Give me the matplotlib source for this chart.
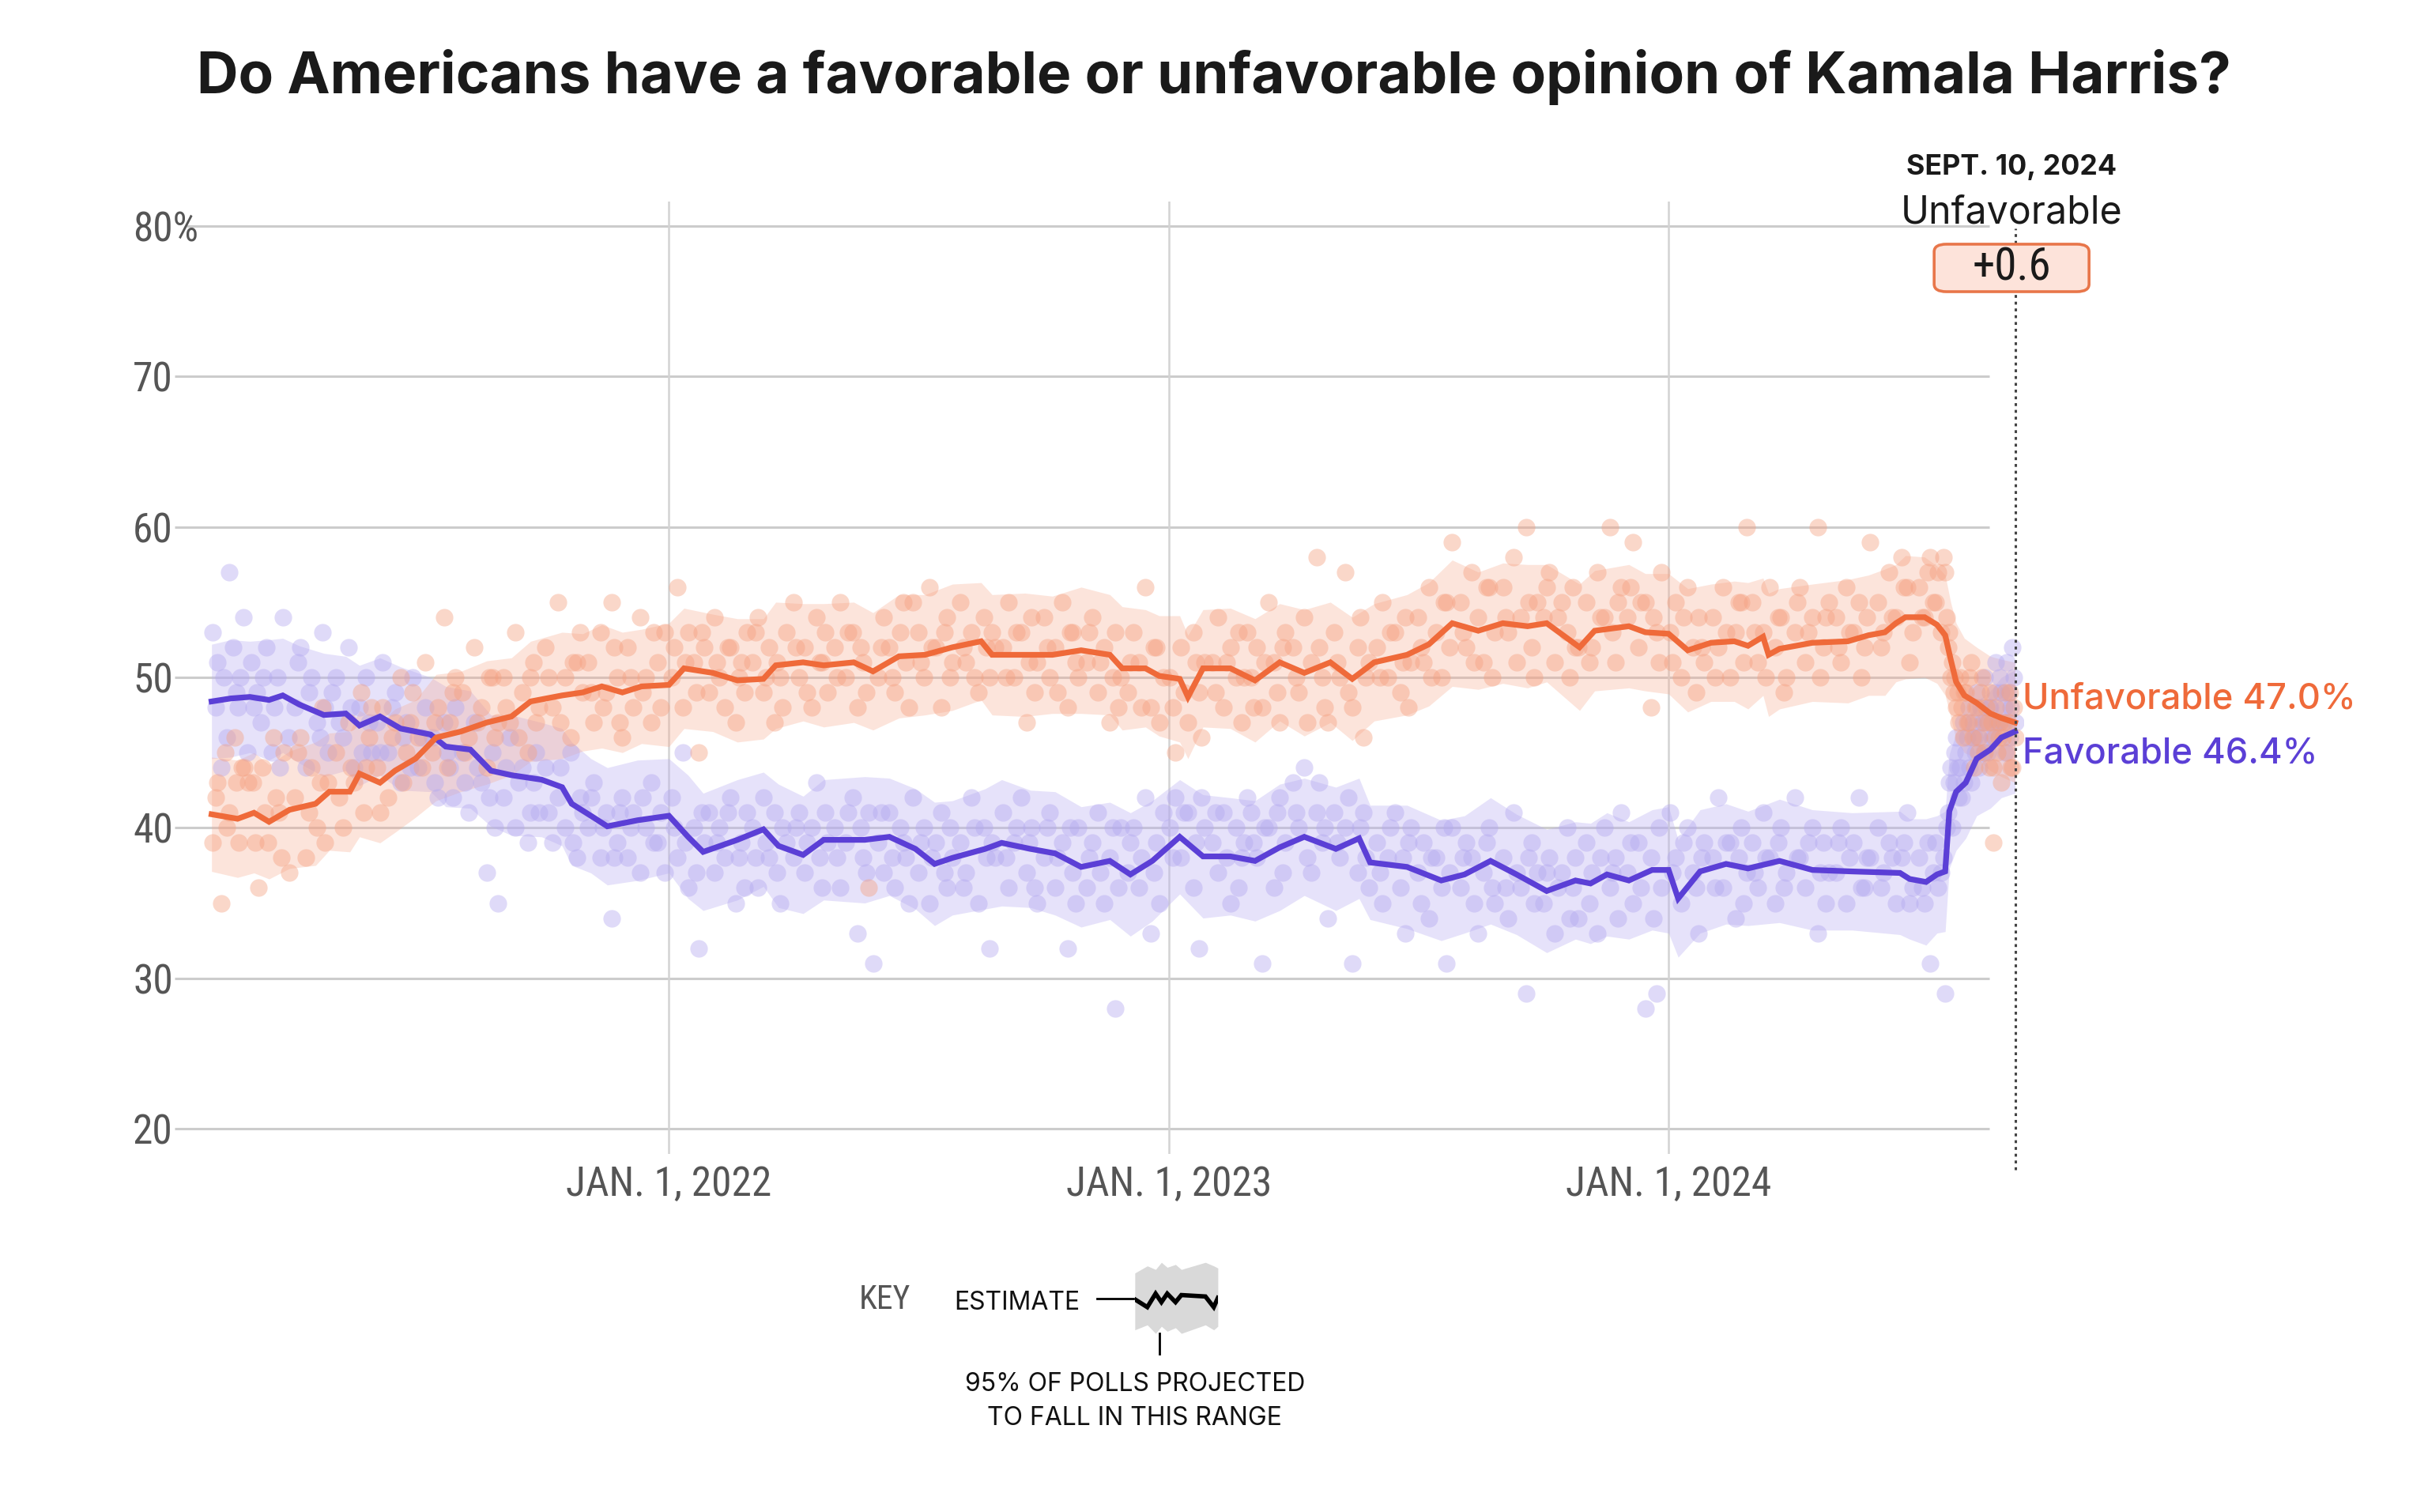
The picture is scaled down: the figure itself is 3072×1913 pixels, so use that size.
"""Favorable / unfavorable polling average for Kamala Harris, Feb 2021 - Sept 2024."""

import matplotlib
matplotlib.use("Agg")
import matplotlib.pyplot as plt
import pandas as pd
from matplotlib.lines import Line2D
from matplotlib.patches import FancyBboxPatch

plt.rcParams["font.family"] = ["Inter", "DejaVu Sans"]
NARROW = ["Roboto Condensed", "DejaVu Sans"]

# ---------------------------------------------------------------------------
# Data
# ---------------------------------------------------------------------------

fav_dates = [
    "2021-02-01", "2021-02-15", "2021-03-01", "2021-03-15", "2021-03-25", "2021-04-06", "2021-04-24", "2021-05-10",
    "2021-05-20", "2021-06-04", "2021-06-19", "2021-07-11", "2021-07-22", "2021-08-09", "2021-08-24", "2021-09-08",
    "2021-09-30", "2021-10-15", "2021-10-22", "2021-11-05", "2021-11-17", "2021-12-09", "2022-01-01", "2022-01-15",
    "2022-01-26", "2022-02-20", "2022-03-11", "2022-03-22", "2022-04-09", "2022-04-24", "2022-05-24", "2022-06-11",
    "2022-06-30", "2022-07-14", "2022-07-27", "2022-08-20", "2022-09-01", "2022-09-22", "2022-10-10", "2022-10-29",
    "2022-11-19", "2022-12-04", "2022-12-20", "2023-01-09", "2023-01-26", "2023-02-15", "2023-03-05", "2023-03-23",
    "2023-04-10", "2023-05-03", "2023-05-20", "2023-05-28", "2023-06-24", "2023-07-19", "2023-08-05", "2023-08-24",
    "2023-09-12", "2023-10-04", "2023-10-25", "2023-11-05", "2023-11-17", "2023-12-03", "2023-12-20", "2024-01-01",
    "2024-01-08", "2024-01-24", "2024-02-12", "2024-02-28", "2024-03-22", "2024-04-15", "2024-05-14", "2024-06-18",
    "2024-06-25", "2024-07-07", "2024-07-15", "2024-07-21", "2024-07-24", "2024-07-29", "2024-08-05", "2024-08-13",
    "2024-08-23", "2024-08-31", "2024-09-10",
]
fav_trend = [
    48.4, 48.6, 48.7, 48.5, 48.8, 48.2, 47.5, 47.6,
    46.8, 47.4, 46.6, 46.2, 45.4, 45.2, 43.8, 43.5,
    43.2, 42.7, 41.6, 40.8, 40.1, 40.5, 40.8, 39.4,
    38.4, 39.2, 39.9, 38.8, 38.2, 39.2, 39.2, 39.4,
    38.6, 37.6, 38.0, 38.6, 39.0, 38.6, 38.3, 37.4,
    37.8, 36.9, 37.8, 39.4, 38.1, 38.1, 37.8, 38.7,
    39.4, 38.6, 39.3, 37.7, 37.4, 36.5, 36.9, 37.8,
    36.9, 35.8, 36.5, 36.3, 36.9, 36.5, 37.2, 37.2,
    35.3, 37.1, 37.6, 37.3, 37.8, 37.2, 37.1, 37.0,
    36.6, 36.4, 36.9, 37.1, 41.1, 42.4, 43.0, 44.6,
    45.2, 46.0, 46.4,
]
fav_spread = [
    3.8, 3.9, 3.7, 4.0, 3.8, 3.9, 4.1, 3.8,
    4.0, 3.9, 4.1, 3.8, 4.0, 3.9, 3.7, 4.0,
    3.8, 3.9, 4.1, 3.8, 3.9, 4.0, 3.8, 4.1,
    3.9, 4.0, 3.8, 4.1, 3.9, 4.0, 4.2, 3.9,
    4.0, 4.1, 3.8, 4.0, 4.2, 3.9, 4.1, 4.0,
    3.9, 4.1, 4.0, 3.8, 4.1, 3.9, 4.0, 4.2,
    3.9, 4.1, 4.0, 3.8, 4.1, 4.0, 3.9, 4.2,
    4.0, 4.1, 3.9, 4.0, 4.1, 3.9, 4.0, 4.2,
    3.9, 4.1, 4.0, 3.8, 4.1, 4.0, 3.9, 4.1,
    4.0, 4.2, 3.9, 4.0, 3.8, 3.9, 3.7, 3.8,
    3.9, 4.0, 4.1,
]

unfav_dates = [
    "2021-02-01", "2021-02-20", "2021-03-04", "2021-03-15", "2021-03-30", "2021-04-18", "2021-04-28", "2021-05-13",
    "2021-05-20", "2021-06-04", "2021-06-15", "2021-06-30", "2021-07-15", "2021-08-02", "2021-08-21", "2021-09-08",
    "2021-09-22", "2021-10-15", "2021-10-30", "2021-11-13", "2021-11-28", "2021-12-12", "2022-01-01", "2022-01-12",
    "2022-02-02", "2022-02-20", "2022-03-11", "2022-03-20", "2022-04-09", "2022-04-24", "2022-05-16", "2022-05-30",
    "2022-06-18", "2022-07-07", "2022-07-27", "2022-08-17", "2022-08-25", "2022-09-18", "2022-10-08", "2022-10-29",
    "2022-11-19", "2022-11-28", "2022-12-15", "2022-12-25", "2023-01-09", "2023-01-15", "2023-01-26", "2023-02-15",
    "2023-03-05", "2023-03-23", "2023-04-10", "2023-04-29", "2023-05-15", "2023-05-31", "2023-06-24", "2023-07-10",
    "2023-07-27", "2023-08-15", "2023-09-02", "2023-09-20", "2023-10-04", "2023-10-28", "2023-11-08", "2023-12-03",
    "2023-12-15", "2024-01-01", "2024-01-15", "2024-02-01", "2024-02-18", "2024-02-28", "2024-03-10", "2024-03-14",
    "2024-03-22", "2024-04-15", "2024-05-11", "2024-05-26", "2024-06-07", "2024-06-15", "2024-06-22", "2024-07-06",
    "2024-07-15", "2024-07-21", "2024-07-25", "2024-07-29", "2024-08-04", "2024-08-13", "2024-08-23", "2024-08-31",
    "2024-09-10",
]
unfav_trend = [
    40.9, 40.6, 41.0, 40.4, 41.2, 41.6, 42.4, 42.4,
    43.6, 43.0, 43.8, 44.6, 46.0, 46.4, 47.0, 47.4,
    48.4, 48.8, 49.0, 49.4, 49.0, 49.4, 49.5, 50.6,
    50.3, 49.8, 49.9, 50.8, 51.0, 50.8, 51.0, 50.4,
    51.4, 51.5, 52.0, 52.4, 51.5, 51.5, 51.5, 51.8,
    51.5, 50.6, 50.6, 50.1, 49.9, 48.7, 50.6, 50.6,
    49.8, 51.0, 50.3, 51.0, 49.9, 51.0, 51.5, 52.2,
    53.6, 53.1, 53.6, 53.4, 53.6, 52.0, 53.1, 53.4,
    53.0, 52.9, 51.8, 52.3, 52.4, 52.1, 52.7, 51.5,
    51.9, 52.3, 52.4, 52.8, 53.0, 53.6, 54.0, 54.0,
    53.5, 52.8, 51.2, 49.7, 48.8, 48.3, 47.6, 47.3,
    47.0,
]
unfav_spread = [
    3.8, 3.9, 4.0, 3.8, 3.9, 4.1, 3.9, 4.0,
    4.2, 4.0, 4.1, 3.9, 4.2, 4.0, 4.1, 3.9,
    4.0, 4.2, 3.9, 4.1, 4.0, 3.8, 4.1, 4.0,
    3.9, 4.1, 4.0, 4.2, 3.9, 4.1, 4.0, 3.9,
    4.1, 4.0, 4.2, 3.9, 4.0, 4.1, 3.9, 4.2,
    4.0, 4.1, 3.9, 4.0, 4.2, 4.1, 3.9, 4.0,
    4.1, 3.9, 4.2, 4.0, 4.1, 3.9, 4.0, 4.1,
    4.2, 3.9, 4.0, 4.1, 3.9, 4.2, 4.0, 4.1,
    3.9, 4.0, 4.1, 3.9, 4.0, 4.2, 3.9, 4.1,
    4.0, 3.9, 4.1, 4.0, 4.2, 3.9, 4.1, 4.0,
    3.9, 4.0, 3.8, 3.9, 3.8, 3.7, 3.8, 3.9,
    4.0,
]

# Individual polls: month -> [(day of month, value)]
fav_polls = {
    "2021-02": [(2, 53), (4, 48), (5, 51), (8, 44), (10, 50), (12, 46), (14, 57), (17, 52), (19, 49), (20, 48),
                (22, 50), (24, 54), (27, 45)],
    "2021-03": [(2, 51), (4, 48), (6, 49), (9, 47), (11, 50), (13, 52), (17, 45), (19, 48), (21, 50), (23, 44),
                (25, 54), (29, 46)],
    "2021-04": [(3, 48), (5, 51), (7, 52), (11, 44), (13, 49), (15, 50), (19, 47), (21, 46), (23, 53), (25, 48),
                (27, 45), (30, 49)],
    "2021-05": [(3, 50), (5, 47), (8, 46), (12, 52), (14, 48), (16, 44), (20, 48), (22, 45), (25, 50), (27, 47),
                (29, 45)],
    "2021-06": [(2, 47), (4, 45), (6, 51), (10, 45), (13, 48), (15, 49), (19, 43), (21, 46), (23, 47), (26, 44),
                (28, 50)],
    "2021-07": [(2, 44), (5, 46), (7, 48), (12, 46), (14, 43), (16, 42), (21, 47), (23, 45), (25, 44), (27, 42),
                (29, 48)],
    "2021-08": [(3, 45), (5, 43), (8, 41), (12, 47), (14, 44), (17, 43), (21, 37), (23, 42), (25, 45), (27, 40),
                (29, 35)],
    "2021-09": [(2, 42), (4, 44), (7, 46), (11, 40), (13, 43), (16, 44), (20, 39), (22, 41), (24, 43), (26, 45),
                (28, 41)],
    "2021-10": [(3, 44), (5, 41), (8, 39), (12, 42), (14, 44), (17, 40), (21, 45), (23, 39), (26, 38), (28, 42),
                (30, 41)],
    "2021-11": [(3, 40), (5, 42), (7, 43), (12, 38), (14, 40), (16, 41), (20, 34), (22, 38), (24, 39), (26, 41),
                (28, 42)],
    "2021-12": [(2, 38), (4, 40), (6, 41), (11, 37), (13, 42), (15, 40), (19, 43), (21, 39), (24, 39), (26, 41),
                (29, 37)],
    "2022-01": [(3, 42), (5, 40), (7, 38), (11, 45), (13, 39), (15, 36), (19, 40), (21, 37), (23, 32), (25, 41),
                (27, 39), (30, 41)],
    "2022-02": [(3, 37), (5, 39), (7, 40), (11, 38), (13, 41), (15, 42), (19, 35), (21, 38), (23, 39), (25, 36),
                (27, 41)],
    "2022-03": [(3, 40), (5, 38), (7, 36), (11, 42), (13, 39), (15, 38), (19, 41), (21, 37), (23, 35), (25, 40),
                (28, 39)],
    "2022-04": [(2, 38), (4, 40), (6, 41), (10, 37), (12, 39), (15, 40), (19, 43), (21, 38), (23, 36), (25, 41),
                (27, 39)],
    "2022-05": [(2, 40), (4, 38), (6, 36), (10, 39), (12, 41), (15, 42), (19, 33), (21, 40), (23, 38), (25, 37),
                (27, 41), (30, 31)],
    "2022-06": [(3, 39), (5, 41), (7, 37), (11, 41), (13, 38), (15, 36), (19, 40), (21, 39), (23, 38), (25, 35),
                (28, 42)],
    "2022-07": [(2, 37), (4, 39), (6, 40), (10, 35), (12, 38), (15, 39), (19, 41), (21, 37), (23, 36), (25, 40),
                (27, 38)],
    "2022-08": [(2, 39), (4, 36), (6, 37), (10, 42), (12, 40), (15, 35), (19, 40), (21, 38), (23, 32), (25, 39),
                (27, 38)],
    "2022-09": [(2, 41), (4, 38), (6, 36), (10, 39), (12, 40), (15, 42), (19, 37), (21, 39), (23, 40), (25, 36),
                (27, 35)],
    "2022-10": [(2, 38), (4, 40), (6, 41), (10, 36), (12, 38), (15, 39), (19, 32), (21, 40), (23, 37), (25, 35),
                (27, 40)],
    "2022-11": [(2, 36), (4, 38), (6, 39), (10, 41), (12, 37), (15, 35), (19, 38), (21, 40), (23, 28), (25, 36),
                (27, 40)],
    "2022-12": [(2, 37), (4, 39), (6, 40), (10, 36), (12, 38), (15, 42), (19, 33), (21, 37), (23, 39), (25, 35),
                (28, 41)],
    "2023-01": [(2, 40), (4, 38), (6, 42), (10, 38), (12, 41), (15, 41), (19, 36), (21, 39), (23, 32), (25, 42),
                (27, 40)],
    "2023-02": [(2, 39), (4, 41), (6, 37), (10, 41), (12, 38), (15, 35), (19, 40), (21, 36), (23, 38), (25, 39),
                (27, 42)],
    "2023-03": [(2, 41), (4, 39), (6, 38), (10, 31), (12, 40), (15, 40), (19, 36), (21, 41), (23, 42), (25, 37),
                (27, 39)],
    "2023-04": [(2, 43), (4, 41), (6, 40), (10, 44), (12, 38), (15, 37), (19, 41), (21, 43), (23, 39), (25, 40),
                (27, 34)],
    "2023-05": [(2, 41), (4, 39), (6, 38), (10, 40), (12, 42), (15, 31), (19, 37), (21, 40), (23, 41), (25, 38),
                (27, 36)],
    "2023-06": [(2, 39), (4, 37), (6, 35), (10, 38), (12, 40), (15, 41), (19, 36), (21, 38), (23, 33), (25, 39),
                (27, 40)],
    "2023-07": [(2, 37), (4, 35), (6, 39), (10, 34), (12, 38), (15, 38), (19, 36), (21, 40), (23, 31), (25, 37),
                (27, 40)],
    "2023-08": [(2, 36), (4, 38), (6, 39), (10, 38), (12, 35), (15, 33), (19, 37), (21, 39), (23, 40), (25, 36),
                (27, 35)],
    "2023-09": [(2, 38), (4, 36), (6, 34), (10, 41), (12, 37), (15, 36), (19, 29), (21, 38), (23, 39), (25, 35),
                (27, 37)],
    "2023-10": [(2, 35), (4, 37), (6, 38), (10, 33), (12, 36), (15, 37), (19, 40), (21, 34), (23, 36), (25, 38),
                (27, 34)],
    "2023-11": [(2, 39), (4, 35), (6, 37), (10, 33), (12, 38), (15, 40), (19, 36), (21, 37), (23, 38), (25, 34),
                (27, 41)],
    "2023-12": [(2, 37), (4, 39), (6, 35), (10, 39), (12, 36), (15, 28), (19, 38), (21, 34), (23, 29), (25, 40),
                (27, 36)],
    "2024-01": [(2, 41), (4, 37), (6, 38), (10, 35), (12, 39), (15, 40), (19, 37), (21, 36), (23, 33), (25, 38),
                (27, 39)],
    "2024-02": [(2, 38), (4, 36), (6, 42), (10, 36), (12, 39), (15, 39), (19, 34), (21, 38), (23, 40), (25, 35),
                (27, 37)],
    "2024-03": [(2, 39), (4, 37), (6, 36), (10, 41), (12, 38), (15, 38), (19, 35), (21, 39), (23, 40), (25, 36),
                (27, 37)],
    "2024-04": [(2, 42), (4, 38), (6, 38), (10, 36), (12, 39), (15, 40), (19, 33), (21, 37), (23, 39), (25, 35),
                (27, 37)],
    "2024-05": [(2, 37), (4, 39), (6, 40), (10, 35), (12, 38), (15, 39), (19, 42), (21, 36), (23, 36), (25, 38),
                (27, 38)],
    "2024-06": [(2, 40), (4, 36), (6, 37), (10, 39), (12, 38), (15, 35), (19, 38), (21, 39), (23, 41), (25, 35),
                (27, 36)],
    "2024-07": [(2, 38), (4, 36), (6, 35), (8, 39), (10, 31), (12, 37), (14, 39), (16, 36), (18, 37), (20, 38),
                (21, 29), (22, 40), (23, 41), (24, 43), (25, 44), (26, 40), (27, 43), (28, 45), (29, 46),
                (30, 44), (31, 42)],
    "2024-08": [(1, 44), (2, 42), (3, 47), (4, 43), (5, 45), (6, 46), (7, 48), (8, 44), (9, 43), (10, 47),
                (11, 46), (12, 45), (13, 49), (14, 46), (15, 44), (16, 48), (17, 47), (18, 45), (19, 50),
                (20, 47), (21, 45), (22, 48), (23, 48), (24, 46), (25, 46), (26, 49), (27, 51), (28, 47),
                (29, 47), (30, 50), (31, 49)],
    "2024-09": [(1, 47), (2, 48), (3, 45), (4, 51), (5, 49), (6, 46), (7, 48), (8, 52), (9, 50), (10, 47)],
}

unfav_polls = {
    "2021-02": [(2, 39), (4, 42), (5, 43), (8, 35), (11, 45), (12, 40), (14, 41), (18, 46), (19, 43), (21, 39),
                (23, 44), (25, 44), (28, 43)],
    "2021-03": [(3, 43), (5, 39), (7, 36), (10, 44), (12, 41), (14, 39), (18, 46), (20, 42), (22, 41), (24, 38),
                (26, 45), (30, 37)],
    "2021-04": [(3, 42), (5, 45), (7, 46), (11, 38), (13, 41), (15, 44), (19, 40), (21, 43), (23, 48), (25, 39),
                (27, 43)],
    "2021-05": [(3, 45), (5, 42), (8, 40), (12, 47), (14, 44), (16, 43), (21, 49), (23, 41), (25, 44), (27, 46),
                (29, 48)],
    "2021-06": [(2, 44), (4, 41), (6, 48), (10, 42), (13, 46), (15, 47), (19, 50), (21, 43), (23, 45), (26, 47),
                (28, 49)],
    "2021-07": [(2, 46), (5, 44), (7, 51), (12, 45), (14, 47), (16, 48), (21, 54), (23, 44), (25, 47), (27, 49),
                (29, 50)],
    "2021-08": [(3, 49), (5, 45), (8, 46), (12, 52), (14, 47), (17, 48), (21, 44), (23, 50), (25, 50), (27, 46),
                (29, 47)],
    "2021-09": [(2, 50), (4, 48), (7, 47), (11, 53), (13, 46), (16, 49), (20, 45), (22, 50), (24, 51), (26, 47),
                (28, 48)],
    "2021-10": [(3, 52), (5, 50), (8, 48), (12, 55), (14, 47), (17, 50), (21, 46), (23, 51), (26, 51), (28, 53),
                (30, 49)],
    "2021-11": [(3, 51), (5, 49), (7, 47), (12, 53), (14, 48), (16, 49), (20, 55), (22, 52), (24, 50), (26, 47),
                (28, 46)],
    "2021-12": [(2, 52), (4, 50), (6, 48), (11, 54), (13, 49), (15, 50), (19, 47), (21, 53), (24, 51), (26, 48),
                (29, 53)],
    "2022-01": [(3, 50), (5, 52), (7, 56), (11, 48), (13, 51), (15, 53), (19, 51), (21, 49), (23, 45), (25, 53),
                (27, 52), (30, 49)],
    "2022-02": [(3, 54), (5, 51), (7, 50), (11, 48), (13, 52), (15, 52), (19, 47), (21, 50), (23, 51), (25, 49),
                (27, 53)],
    "2022-03": [(3, 51), (5, 53), (7, 54), (11, 49), (13, 50), (15, 52), (19, 47), (21, 51), (23, 50), (25, 48),
                (28, 53)],
    "2022-04": [(2, 55), (4, 52), (6, 50), (10, 52), (12, 49), (15, 48), (19, 54), (21, 51), (23, 51), (25, 53),
                (27, 49)],
    "2022-05": [(2, 52), (4, 50), (6, 55), (10, 50), (12, 53), (15, 53), (19, 48), (21, 52), (23, 51), (25, 49),
                (27, 36)],
    "2022-06": [(3, 50), (5, 52), (7, 54), (11, 52), (13, 50), (15, 49), (19, 53), (21, 55), (23, 51), (25, 48),
                (28, 55)],
    "2022-07": [(2, 53), (4, 51), (6, 50), (10, 56), (12, 52), (15, 52), (19, 48), (21, 53), (23, 54), (25, 50),
                (27, 51)],
    "2022-08": [(2, 55), (4, 52), (6, 51), (10, 53), (12, 50), (15, 49), (19, 54), (21, 52), (23, 50), (25, 53),
                (27, 52)],
    "2022-09": [(2, 52), (4, 50), (6, 55), (10, 50), (12, 53), (15, 53), (19, 47), (21, 51), (23, 54), (25, 49),
                (27, 51)],
    "2022-10": [(2, 54), (4, 52), (6, 50), (10, 52), (12, 49), (15, 55), (19, 48), (21, 53), (23, 53), (25, 51),
                (27, 50)],
    "2022-11": [(2, 51), (4, 53), (6, 54), (10, 49), (12, 51), (15, 52), (19, 47), (21, 50), (23, 53), (25, 48),
                (27, 50)],
    "2022-12": [(2, 49), (4, 51), (6, 53), (10, 51), (12, 48), (15, 56), (19, 48), (21, 52), (23, 52), (25, 47),
                (28, 50)],
    "2023-01": [(2, 50), (4, 48), (6, 45), (10, 52), (12, 49), (15, 47), (19, 53), (21, 51), (23, 49), (25, 46),
                (27, 51)],
    "2023-02": [(2, 51), (4, 49), (6, 54), (10, 48), (12, 51), (15, 52), (19, 50), (21, 53), (23, 47), (25, 50),
                (27, 53)],
    "2023-03": [(2, 50), (4, 48), (6, 52), (10, 48), (12, 51), (15, 55), (19, 51), (21, 49), (23, 47), (25, 52),
                (27, 53)],
    "2023-04": [(2, 52), (4, 50), (6, 49), (10, 54), (12, 47), (15, 51), (19, 58), (21, 52), (23, 50), (25, 48),
                (27, 47)],
    "2023-05": [(2, 53), (4, 51), (6, 50), (10, 57), (12, 49), (15, 48), (19, 52), (21, 54), (23, 46), (25, 50),
                (27, 51)],
    "2023-06": [(2, 52), (4, 50), (6, 55), (10, 50), (12, 53), (15, 53), (19, 49), (21, 51), (23, 54), (25, 48),
                (27, 51)],
    "2023-07": [(2, 54), (4, 52), (6, 51), (10, 56), (12, 50), (15, 53), (19, 50), (21, 55), (23, 55), (25, 52),
                (27, 59)],
    "2023-08": [(2, 55), (4, 53), (6, 52), (10, 57), (12, 51), (15, 54), (19, 51), (21, 56), (23, 56), (25, 50),
                (27, 53)],
    "2023-09": [(2, 56), (4, 54), (6, 53), (10, 58), (12, 51), (15, 54), (19, 60), (21, 55), (23, 52), (25, 50),
                (27, 55)],
    "2023-10": [(2, 54), (4, 56), (6, 57), (10, 51), (12, 54), (15, 55), (19, 53), (21, 50), (23, 56), (25, 52),
                (27, 52)],
    "2023-11": [(2, 55), (4, 51), (6, 52), (10, 57), (12, 54), (15, 54), (19, 60), (21, 53), (23, 51), (25, 55),
                (27, 56)],
    "2023-12": [(2, 54), (4, 56), (6, 59), (10, 52), (12, 55), (15, 55), (19, 48), (21, 54), (23, 53), (25, 51),
                (27, 57)],
    "2024-01": [(2, 53), (4, 51), (6, 55), (10, 50), (12, 54), (15, 56), (19, 52), (21, 49), (23, 54), (25, 52),
                (27, 51)],
    "2024-02": [(2, 54), (4, 50), (6, 52), (10, 56), (12, 53), (15, 50), (19, 53), (21, 55), (23, 55), (25, 51),
                (27, 60)],
    "2024-03": [(2, 55), (4, 53), (6, 51), (10, 53), (12, 50), (15, 56), (19, 52), (21, 54), (23, 54), (25, 49),
                (27, 50)],
    "2024-04": [(2, 53), (4, 55), (6, 56), (10, 51), (12, 53), (15, 54), (19, 60), (21, 50), (23, 52), (25, 54),
                (27, 55)],
    "2024-05": [(2, 54), (4, 52), (6, 51), (10, 56), (12, 53), (15, 53), (19, 55), (21, 50), (23, 52), (25, 54),
                (27, 59)],
    "2024-06": [(2, 55), (4, 52), (6, 53), (10, 57), (12, 54), (15, 54), (19, 58), (21, 56), (23, 56), (25, 51),
                (27, 53)],
    "2024-07": [(2, 56), (4, 54), (6, 54), (8, 57), (10, 58), (12, 55), (14, 55), (16, 57), (18, 53), (20, 58),
                (21, 57), (22, 54), (23, 52), (24, 53), (25, 50), (26, 51), (27, 49), (28, 50), (29, 48),
                (30, 49), (31, 47)],
    "2024-08": [(1, 50), (2, 48), (3, 46), (4, 49), (5, 49), (6, 47), (7, 47), (8, 50), (9, 51), (10, 46),
                (11, 44), (12, 48), (13, 48), (14, 45), (15, 46), (16, 49), (17, 50), (18, 47), (19, 45),
                (20, 48), (21, 47), (22, 44), (23, 49), (24, 47), (25, 44), (25, 39), (26, 46), (27, 48),
                (28, 45), (29, 46), (30, 47), (31, 43)],
    "2024-09": [(1, 46), (2, 47), (3, 49), (4, 45), (5, 47), (6, 49), (7, 44), (8, 44), (9, 48), (10, 46)],
}

y_ticks = [20, 30, 40, 50, 60, 70, 80]
y_labels = ["20", "30", "40", "50", "60", "70", "80%"]
x_tick_dates = ["2022-01-01", "2023-01-01", "2024-01-01"]
x_labels = ["JAN. 1, 2022", "JAN. 1, 2023", "JAN. 1, 2024"]
as_of = "2024-09-10"

# little sample drawn inside the key
key_x = [0, 0.15, 0.25, 0.32, 0.39, 0.49, 0.56, 0.85, 0.95, 1.0]
key_line = [0.48, 0.37, 0.56, 0.44, 0.56, 0.44, 0.54, 0.52, 0.37, 0.50]
key_lo = [0.05, 0.12, 0.0, 0.10, 0.03, 0.08, 0.0, 0.12, 0.05, 0.10]
key_hi = [0.85, 0.95, 0.90, 1.0, 0.93, 0.97, 0.90, 1.0, 0.95, 0.92]

# ---------------------------------------------------------------------------
# Styling
# ---------------------------------------------------------------------------

ORANGE = "#ef6a3a"
PURPLE = "#5b3fd6"
GRID = "#cccccc"
TICK_COLOR = "#555555"


def poll_points(polls):
    dates = [pd.Timestamp(f"{month}-{day:02d}") for month, pts in polls.items() for day, _ in pts]
    values = [v for pts in polls.values() for _, v in pts]
    return dates, values


fig = plt.figure(figsize=(15.36, 9.565), dpi=200)
ax = fig.add_axes([0.0719, 0.2368, 0.7614, 0.6299])

fd = pd.to_datetime(fav_dates)
ud = pd.to_datetime(unfav_dates)
f_lo = [t - s for t, s in zip(fav_trend, fav_spread)]
f_hi = [t + s for t, s in zip(fav_trend, fav_spread)]
u_lo = [t - s for t, s in zip(unfav_trend, unfav_spread)]
u_hi = [t + s for t, s in zip(unfav_trend, unfav_spread)]

# 95% bands
ax.fill_between(fd, f_lo, f_hi, color="#b9aef2", alpha=0.35, lw=0, zorder=1)
ax.fill_between(ud, u_lo, u_hi, color="#f8a78a", alpha=0.30, lw=0, zorder=1)

# individual polls
pdates, pvals = poll_points(fav_polls)
ax.scatter(pdates, pvals, s=64, color="#b3a8f0", alpha=0.42, lw=0, zorder=2)
pdates, pvals = poll_points(unfav_polls)
ax.scatter(pdates, pvals, s=64, color="#f5a080", alpha=0.42, lw=0, zorder=2)

# estimates
ax.plot(fd, fav_trend, color=PURPLE, lw=2.6, zorder=4, solid_joinstyle="miter")
ax.plot(ud, unfav_trend, color=ORANGE, lw=2.6, zorder=4, solid_joinstyle="miter")

x_left = pd.Timestamp("2021-01-05")
ax.set_xlim(x_left, pd.Timestamp("2024-09-16"))
ax.set_ylim(18.32, 81.63)

# grid
grid_start = [x_left] * 6 + [pd.Timestamp("2021-01-14")]
ax.hlines(y_ticks, grid_start, pd.Timestamp("2024-08-22"), color=GRID, lw=1.1, zorder=0)
for d in x_tick_dates:
    ax.axvline(pd.Timestamp(d), color="#d3d3d3", lw=0.9, zorder=0)

ax.set_yticks(y_ticks)
ax.set_yticklabels(y_labels, fontfamily=NARROW, fontstretch="condensed", fontsize=18.5,
                   color=TICK_COLOR, ha="left")
ax.tick_params(axis="y", length=0, pad=19)
ax.set_xticks(pd.to_datetime(x_tick_dates))
ax.set_xticklabels(x_labels, fontfamily=NARROW, fontstretch="condensed", fontsize=18.5, color=TICK_COLOR)
ax.tick_params(axis="x", length=0, pad=5)
for side in ax.spines.values():
    side.set_visible(False)

# latest-date marker
ax.axvline(pd.Timestamp(as_of), ymin=-0.017, ymax=0.972, color="#444444", lw=1.1,
           linestyle=(0, (1.2, 1.6)), clip_on=False, zorder=5)

# end-of-line labels
ax.annotate(f"Unfavorable {unfav_trend[-1]:.1f}%", (pd.Timestamp(as_of), unfav_trend[-1]),
            xytext=(3.5, 10.5), textcoords="offset points", ha="left", va="center",
            color=ORANGE, fontsize=16.3, fontweight="medium", annotation_clip=False)
ax.annotate(f"Favorable {fav_trend[-1]:.1f}%", (pd.Timestamp(as_of), fav_trend[-1]),
            xytext=(3.5, -10), textcoords="offset points", ha="left", va="center",
            color=PURPLE, fontsize=16.3, fontweight="medium", annotation_clip=False)

# header above the marker
fig.text(0.5, 0.9488, "Do Americans have a favorable or unfavorable opinion of Kamala Harris?",
         ha="center", va="center", fontsize=26.2, fontweight="bold", color="#1a1a1a")
fig.text(0.8285, 0.8892, "SEPT. 10, 2024", ha="center", va="center", fontsize=12.9,
         fontweight="bold", color="#1a1a1a")
fig.text(0.8285, 0.8589, "Unfavorable", ha="center", va="center", fontsize=17.4, color="#1a1a1a")
box = FancyBboxPatch((0.7966, 0.8071), 0.0638, 0.0314, boxstyle="round,pad=0,rounding_size=0.005",
                     transform=fig.transFigure, facecolor="#fde3da", edgecolor="#e8764a", lw=1.3,
                     zorder=6)
fig.add_artist(box)
lead = unfav_trend[-1] - fav_trend[-1]
fig.text(0.8285, 0.8228, f"+{lead:.1f}", ha="center", va="center", fontsize=20.5,
         fontfamily=NARROW, fontstretch="condensed", color="#1a1a1a", zorder=7)

# key
fig.text(0.3538, 0.1401, "KEY", ha="left", va="center", fontsize=15, fontfamily=NARROW,
         fontstretch="condensed", color=TICK_COLOR)
fig.text(0.3929, 0.1385, "ESTIMATE", ha="left", va="center", fontsize=11.5, color="#111111")
kax = fig.add_axes([0.4674, 0.1181, 0.0342, 0.0470])
kax.fill_between(key_x, key_lo, key_hi, color="#d9d9d9", lw=0)
kax.plot(key_x, key_line, color="black", lw=2.0, solid_joinstyle="miter")
kax.set_xlim(0, 1)
kax.set_ylim(0, 1)
kax.axis("off")
fig.add_artist(Line2D([0.4518, 0.4668], [0.1411, 0.1411], transform=fig.transFigure,
                      color="black", lw=1.0))
fig.add_artist(Line2D([0.4775, 0.4775], [0.1181, 0.1045], transform=fig.transFigure,
                      color="black", lw=1.0))
fig.text(0.4674, 0.0842, "95% OF POLLS PROJECTED", ha="center", va="center", fontsize=11.5,
         color="#111111")
fig.text(0.4674, 0.0617, "TO FALL IN THIS RANGE", ha="center", va="center", fontsize=11.5,
         color="#111111")

fig.savefig("out.png", dpi=200)
